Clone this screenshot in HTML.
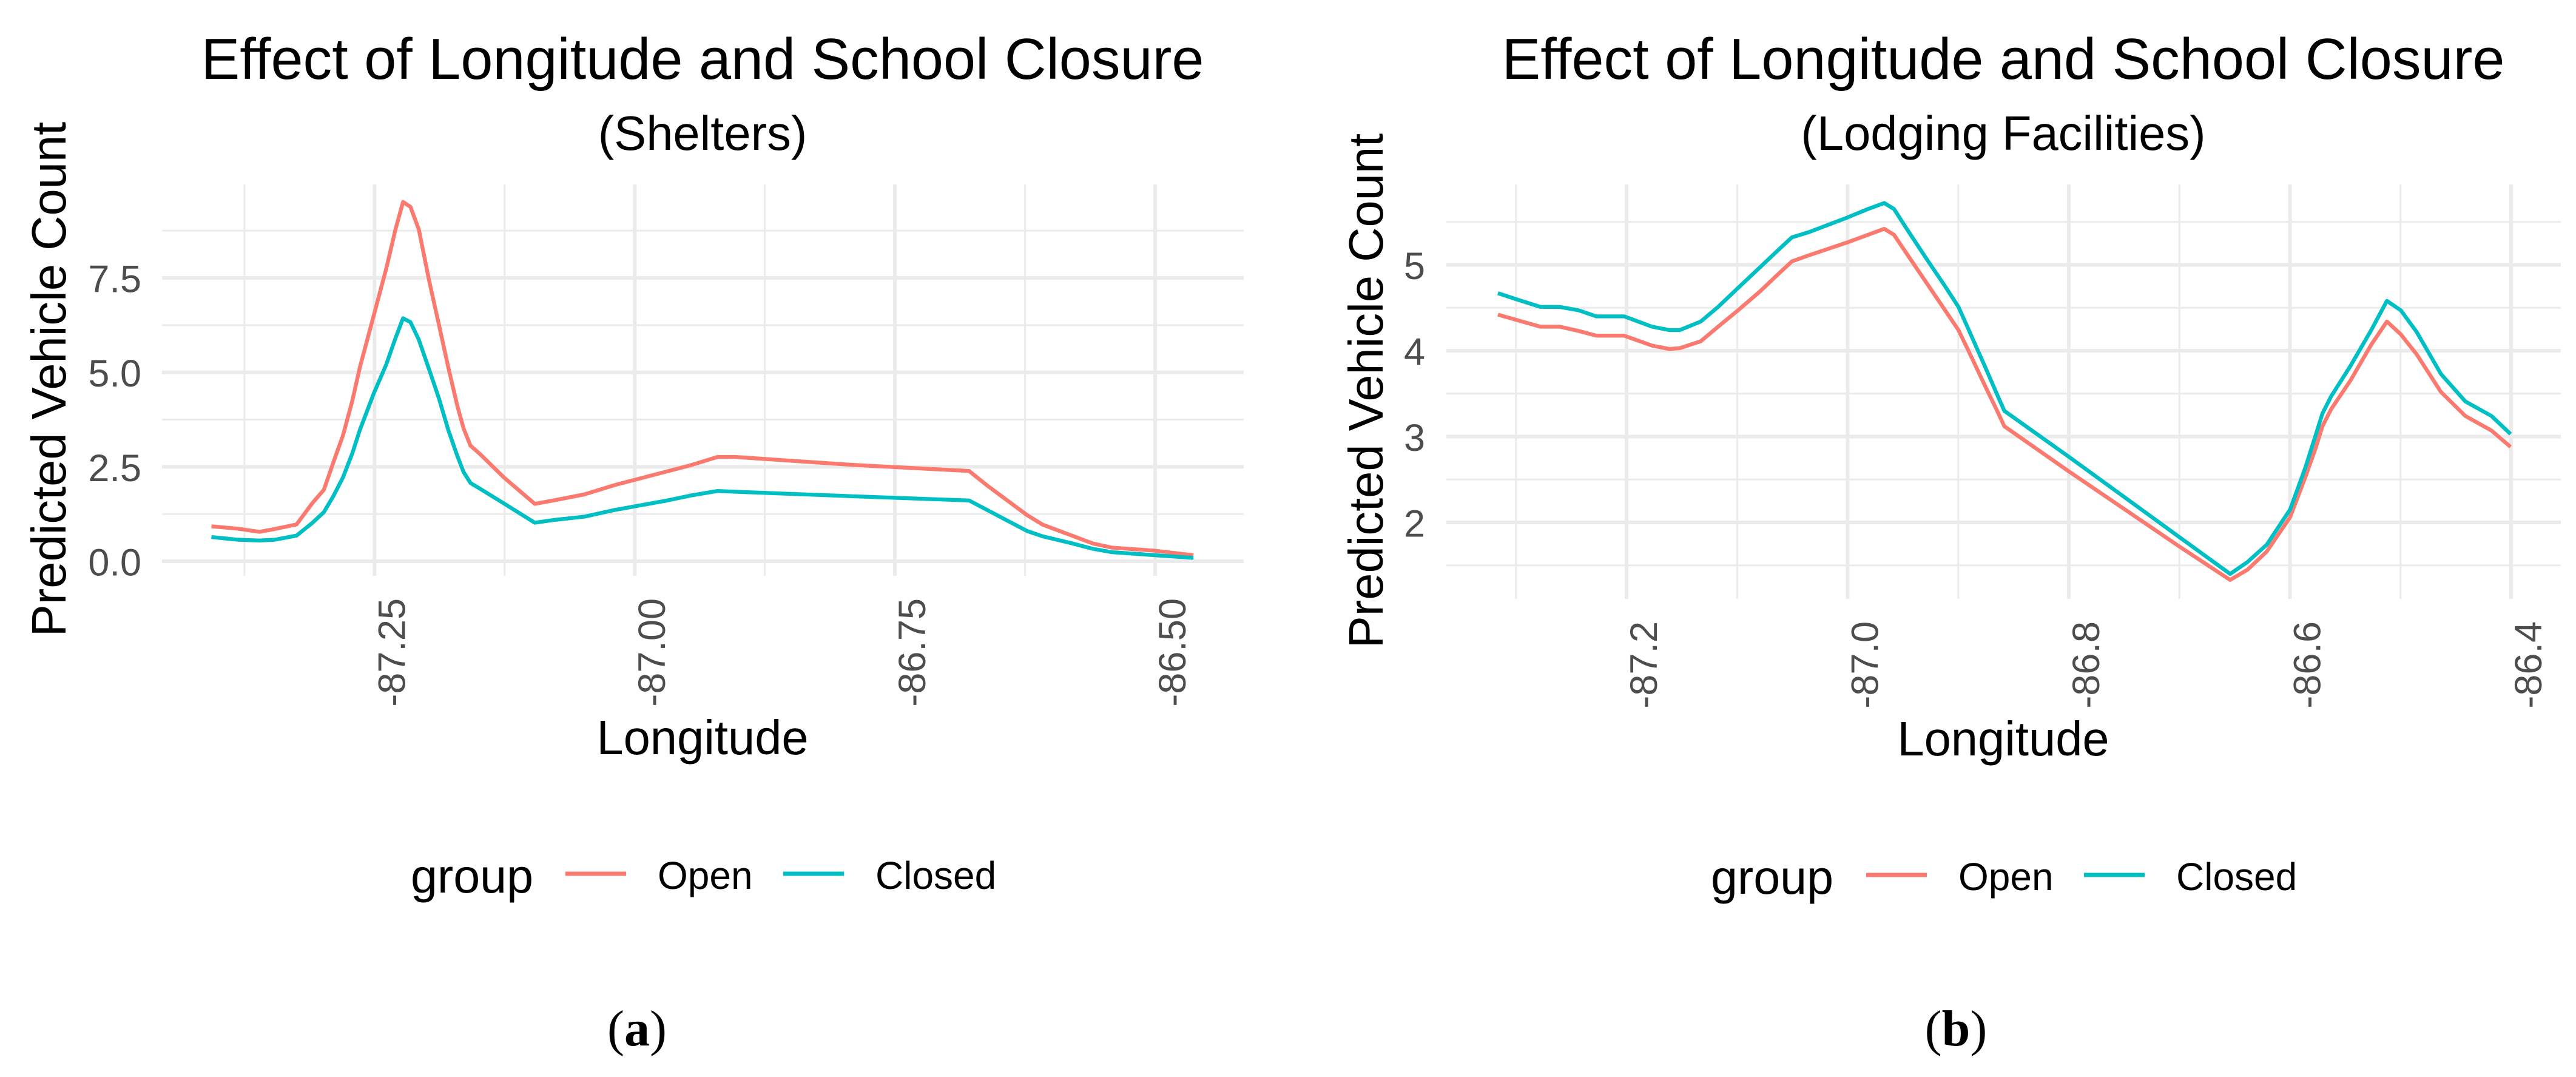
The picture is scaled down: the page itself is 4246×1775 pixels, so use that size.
<!DOCTYPE html>
<html lang="en">
<head>
<meta charset="utf-8">
<title>Effect of Longitude and School Closure</title>
<style>
html,body{margin:0;padding:0;background:#fff;}
svg{display:block;font-family:"Liberation Sans",Arial,sans-serif;}
.title{font-size:95.4px;fill:#000;text-anchor:middle;}
.subtitle{font-size:79.5px;fill:#000;text-anchor:middle;}
.axis-title{font-size:79.5px;fill:#000;text-anchor:middle;}
.legend-title{font-size:79px;fill:#000;}
.legend-label{font-size:64px;fill:#000;}
.tick{font-size:63px;fill:#4d4d4d;}
.caption{font-family:"Liberation Serif",serif;font-size:84px;fill:#000;text-anchor:middle;}
</style>
</head>
<body>
<svg id="figure" xmlns="http://www.w3.org/2000/svg" width="4246" height="1775" viewBox="0 0 4246 1775">
  <rect width="4246" height="1775" fill="#ffffff"/>

  <g id="panel-a">
    <g id="a-grid"></g>
    <g id="a-ticks"></g>
    <g id="a-lines"></g>
    <text class="title" x="1158" y="130">Effect of Longitude and School Closure</text>
    <text class="subtitle" x="1158" y="247">(Shelters)</text>
    <text class="axis-title" x="1158" y="1243">Longitude</text>
    <text class="axis-title" transform="translate(108 625) rotate(-90)">Predicted Vehicle Count</text>
    <g>
      <text class="legend-title" x="677" y="1471">group</text>
      <line x1="932" x2="1032" y1="1440" y2="1440" stroke="#fb7a70" stroke-width="7"/>
      <text class="legend-label" x="1084" y="1465">Open</text>
      <line x1="1291" x2="1391" y1="1440" y2="1440" stroke="#00BFC4" stroke-width="7"/>
      <text class="legend-label" x="1443" y="1465">Closed</text>
    </g>
    <text class="caption" x="1050" y="1723">(<tspan font-weight="bold">a</tspan>)</text>
  </g>

  <g id="panel-b">
    <g id="b-grid"></g>
    <g id="b-ticks"></g>
    <g id="b-lines"></g>
    <text class="title" x="3302" y="130">Effect of Longitude and School Closure</text>
    <text class="subtitle" x="3302" y="247">(Lodging Facilities)</text>
    <text class="axis-title" x="3302" y="1245">Longitude</text>
    <text class="axis-title" transform="translate(2279 644) rotate(-90)">Predicted Vehicle Count</text>
    <g>
      <text class="legend-title" x="2820" y="1473">group</text>
      <line x1="3076" x2="3176" y1="1442" y2="1442" stroke="#fb7a70" stroke-width="7"/>
      <text class="legend-label" x="3228" y="1467">Open</text>
      <line x1="3435" x2="3535" y1="1442" y2="1442" stroke="#00BFC4" stroke-width="7"/>
      <text class="legend-label" x="3587" y="1467">Closed</text>
    </g>
    <text class="caption" x="3224" y="1723">(<tspan font-weight="bold">b</tspan>)</text>
  </g>
</svg>

<script>
// ---- Panel (a) Shelters data ----
const sheltersLongitude = [-87.4067,-87.3814,-87.3606,-87.3457,-87.3249,-87.3100,-87.2987,-87.2892,-87.2803,-87.2714,-87.2640,-87.2506,-87.2387,-87.2298,-87.2226,-87.2155,-87.2075,-87.1971,-87.1881,-87.1792,-87.1703,-87.1644,-87.1578,-87.1480,-87.1257,-87.0960,-87.0781,-87.0484,-87.0187,-86.9687,-86.9464,-86.9204,-86.9037,-86.7903,-86.6788,-86.6602,-86.6230,-86.6081,-86.5821,-86.5598,-86.5413,-86.5004,-86.4632];
const sheltersOpen = [0.925,0.862,0.779,0.855,0.974,1.53,1.891,2.64,3.33,4.24,5.14,6.52,7.75,8.79,9.51,9.38,8.79,7.37,6.26,5.14,4.10,3.51,3.06,2.82,2.22,1.52,1.61,1.77,2.02,2.38,2.54,2.76,2.76,2.55,2.39,1.98,1.22,0.97,0.70,0.47,0.36,0.28,0.16];
const sheltersClosed = [0.64,0.57,0.55,0.57,0.68,1.01,1.30,1.74,2.22,2.85,3.48,4.45,5.21,5.91,6.43,6.33,5.87,5.04,4.31,3.48,2.78,2.36,2.07,1.91,1.53,1.02,1.09,1.18,1.36,1.61,1.74,1.86,1.84,1.72,1.61,1.34,0.80,0.66,0.49,0.33,0.24,0.16,0.09];
const sheltersXTicks = [-87.25,-87.00,-86.75,-86.50];
const sheltersXTickLabels = ["-87.25","-87.00","-86.75","-86.50"];
const sheltersXMinor = [-87.375,-87.125,-86.875,-86.625];
const sheltersYTicks = [0,2.5,5,7.5];
const sheltersYTickLabels = ["0.0","2.5","5.0","7.5"];
const sheltersYMinor = [1.25,3.75,6.25,8.75];

// ---- Panel (b) Lodging Facilities data ----
const lodgingLongitude = [-87.3163,-87.2999,-87.2779,-87.2605,-87.2432,-87.2274,-87.2022,-87.1770,-87.1613,-87.1518,-87.1329,-87.1172,-87.0992,-87.0794,-87.0605,-87.0504,-87.0353,-87.0006,-86.9817,-86.9669,-86.9581,-86.9471,-86.9282,-86.9124,-86.8998,-86.8904,-86.8746,-86.8652,-86.8583,-86.8006,-86.7001,-86.6541,-86.6383,-86.6210,-86.5999,-86.5863,-86.5769,-86.5706,-86.5627,-86.5454,-86.5265,-86.5123,-86.4997,-86.4855,-86.4635,-86.4414,-86.4178,-86.4005];
const lodgingOpen = [4.42,4.36,4.28,4.28,4.23,4.175,4.175,4.06,4.02,4.03,4.11,4.28,4.47,4.69,4.92,5.04,5.11,5.26,5.35,5.42,5.35,5.14,4.78,4.48,4.24,3.99,3.56,3.31,3.12,2.60,1.72,1.33,1.45,1.66,2.06,2.52,2.86,3.12,3.32,3.65,4.07,4.34,4.19,3.96,3.52,3.24,3.07,2.88];
const lodgingClosed = [4.67,4.60,4.51,4.51,4.47,4.40,4.40,4.28,4.24,4.24,4.34,4.51,4.73,4.97,5.20,5.32,5.38,5.55,5.65,5.72,5.65,5.43,5.06,4.76,4.51,4.24,3.78,3.50,3.30,2.77,1.83,1.40,1.54,1.74,2.15,2.63,3.01,3.27,3.47,3.82,4.24,4.58,4.47,4.22,3.73,3.41,3.24,3.03];
const lodgingXTicks = [-87.2,-87.0,-86.8,-86.6,-86.4];
const lodgingXTickLabels = ["-87.2","-87.0","-86.8","-86.6","-86.4"];
const lodgingXMinor = [-87.3,-87.1,-86.9,-86.7,-86.5];
const lodgingYTicks = [2,3,4,5];
const lodgingYTickLabels = ["2","3","4","5"];
const lodgingYMinor = [1.5,2.5,3.5,4.5,5.5];

const SVG_NS = "http://www.w3.org/2000/svg";
const GRID_COLOR = "#ebebeb";
const OPEN_COLOR = "#fb7a70";
const CLOSED_COLOR = "#00BFC4";

function linearScale(d0, r0, d1, r1) {
  return function (v) { return r0 + (v - d0) * (r1 - r0) / (d1 - d0); };
}

function drawGridLine(parent, x1, y1, x2, y2, width, name) {
  const el = document.createElementNS(SVG_NS, "line");
  el.setAttribute("x1", x1);
  el.setAttribute("y1", y1);
  el.setAttribute("x2", x2);
  el.setAttribute("y2", y2);
  el.setAttribute("stroke", GRID_COLOR);
  el.setAttribute("stroke-width", width);
  
  
  parent.appendChild(el);
}

function drawSeries(parent, xs, ys, xScale, yScale, color, name) {
  const el = document.createElementNS(SVG_NS, "polyline");
  const pts = xs.map(function (x, i) {
    return xScale(x).toFixed(1) + "," + yScale(ys[i]).toFixed(1);
  });
  el.setAttribute("points", pts.join(" "));
  el.setAttribute("fill", "none");
  el.setAttribute("stroke", color);
  el.setAttribute("stroke-width", "6.4");
  el.setAttribute("stroke-linejoin", "round");
  
  
  parent.appendChild(el);
}

function drawPanel(p) {
  const grid = document.getElementById(p.id + "-grid");
  const ticks = document.getElementById(p.id + "-ticks");
  const lines = document.getElementById(p.id + "-lines");
  const x = p.xScale, y = p.yScale, box = p.box;

  p.yMinor.forEach(function (v) { drawGridLine(grid, box.left, y(v), box.right, y(v), 3, "y-minor-gridline"); });
  p.xMinor.forEach(function (v) { drawGridLine(grid, x(v), box.top, x(v), box.bottom, 3, "x-minor-gridline"); });
  p.yTicks.forEach(function (v) { drawGridLine(grid, box.left, y(v), box.right, y(v), 6, "y-major-gridline"); });
  p.xTicks.forEach(function (v) { drawGridLine(grid, x(v), box.top, x(v), box.bottom, 6, "x-major-gridline"); });

  p.yTicks.forEach(function (v, i) {
    const t = document.createElementNS(SVG_NS, "text");
    t.setAttribute("class", "tick");
    t.setAttribute("text-anchor", "end");
    t.setAttribute("x", p.yTickRight);
    t.setAttribute("y", y(v) + 23.5);
    
    
    t.textContent = p.yLabels[i];
    ticks.appendChild(t);
  });

  p.xTicks.forEach(function (v, i) {
    const t = document.createElementNS(SVG_NS, "text");
    t.setAttribute("class", "tick");
    t.setAttribute("text-anchor", "end");
    t.setAttribute("transform", "translate(" + (x(v) + 50) + " " + p.xTickTop + ") rotate(-90)");
    
    
    t.textContent = p.xLabels[i];
    ticks.appendChild(t);
  });

  drawSeries(lines, p.lon, p.open, x, y, OPEN_COLOR, "line-open");
  drawSeries(lines, p.lon, p.closed, x, y, CLOSED_COLOR, "line-closed");
}

drawPanel({
  id: "a",
  box: { left: 267, right: 2050, top: 304, bottom: 949 },
  xScale: linearScale(-87.25, 617.3, -86.5, 1904),
  yScale: linearScale(0, 925, 7.5, 458),
  lon: sheltersLongitude, open: sheltersOpen, closed: sheltersClosed,
  xTicks: sheltersXTicks, xLabels: sheltersXTickLabels, xMinor: sheltersXMinor,
  yTicks: sheltersYTicks, yLabels: sheltersYTickLabels, yMinor: sheltersYMinor,
  yTickRight: 233, xTickTop: 986
});

drawPanel({
  id: "b",
  box: { left: 2384, right: 4221, top: 304, bottom: 987 },
  xScale: linearScale(-87.2, 2681, -86.4, 4139),
  yScale: linearScale(2, 861, 5, 436.5),
  lon: lodgingLongitude, open: lodgingOpen, closed: lodgingClosed,
  xTicks: lodgingXTicks, xLabels: lodgingXTickLabels, xMinor: lodgingXMinor,
  yTicks: lodgingYTicks, yLabels: lodgingYTickLabels, yMinor: lodgingYMinor,
  yTickRight: 2349, xTickTop: 1024
});
</script>
</body>
</html>
